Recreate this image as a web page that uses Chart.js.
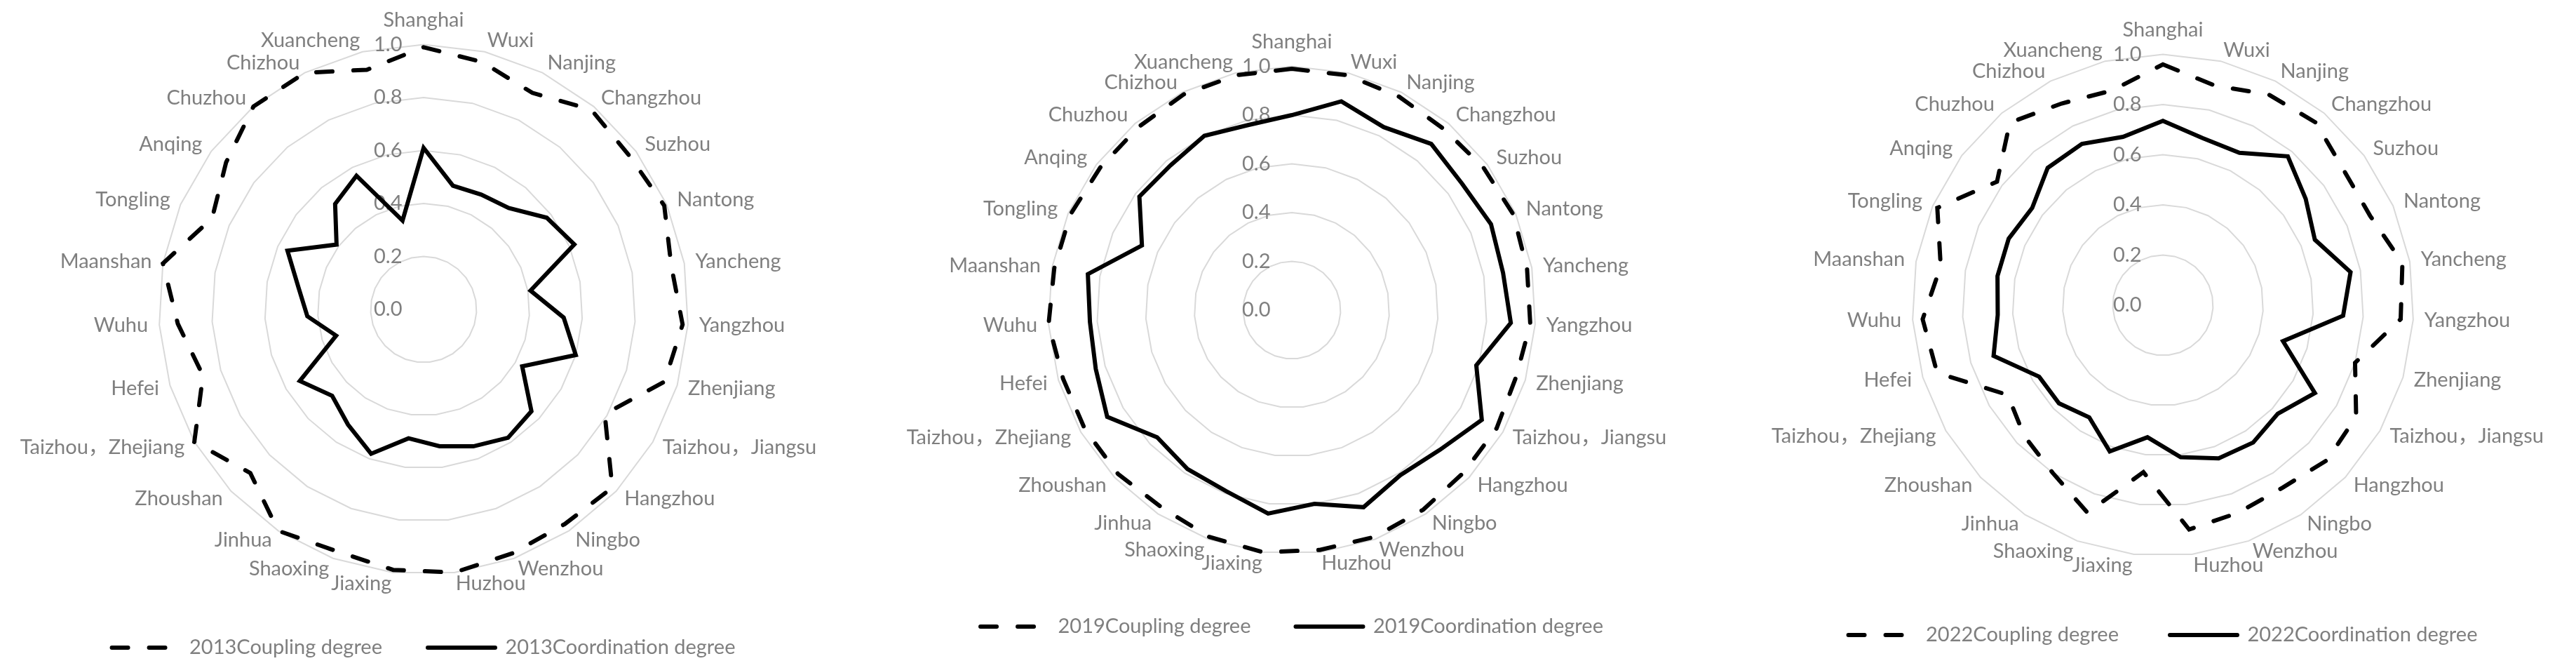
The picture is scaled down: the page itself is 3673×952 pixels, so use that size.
<!DOCTYPE html>
<html>
<head>
<meta charset="utf-8">
<script src="https://cdn.jsdelivr.net/npm/chart.js@4.4.1/dist/chart.umd.min.js"></script>
<style>
  html, body { margin: 0; padding: 0; background: #fff; }
  body { width: 3673px; height: 952px; position: relative; overflow: hidden; }
  canvas { position: absolute; top: 0; }
</style>
</head>
<body>
<canvas id="c2013" width="1280" height="952" style="left:-36px"></canvas>
<canvas id="c2019" width="1280" height="952" style="left:1202px"></canvas>
<canvas id="c2022" width="1280" height="952" style="left:2444px"></canvas>
<script>
// --- data ---
const cities = ["Shanghai", "Wuxi", "Nanjing", "Changzhou", "Suzhou", "Nantong", "Yancheng", "Yangzhou",
    "Zhenjiang", "Taizhou，Jiangsu", "Hangzhou", "Ningbo", "Wenzhou", "Huzhou", "Jiaxing", "Shaoxing",
    "Jinhua", "Zhoushan", "Taizhou，Zhejiang", "Hefei", "Wuhu", "Maanshan", "Tongling", "Anqing",
    "Chuzhou", "Chizhou", "Xuancheng"];

const coupling2013 = [0.99, 0.96, 0.915, 0.985, 0.97, 0.99, 0.95, 0.98, 0.95, 0.79, 0.98, 0.97, 0.98, 1.0,
    0.99, 0.97, 1.0, 0.9, 1.0, 0.87, 0.93, 1.0, 0.87, 0.93, 1.0, 1.0, 0.93];
const coordination2013 = [0.61, 0.48, 0.485, 0.5, 0.58, 0.62, 0.41, 0.53, 0.6, 0.43, 0.56, 0.58, 0.55, 0.52,
    0.49, 0.58, 0.52, 0.475, 0.54, 0.345, 0.44, 0.48, 0.56, 0.41, 0.52, 0.565, 0.345];

const coupling2019 = [0.99, 0.99, 0.98, 0.97, 0.98, 0.99, 0.98, 0.98, 0.96, 0.97, 0.97, 0.98, 0.99, 0.99,
    1.0, 0.99, 0.97, 0.98, 0.98, 0.98, 1.0, 0.99, 0.99, 0.98, 0.98, 0.99, 0.99];
const coordination2019 = [0.8, 0.88, 0.84, 0.89, 0.87, 0.89, 0.88, 0.9, 0.79, 0.9, 0.835, 0.81, 0.86, 0.8,
    0.84, 0.79, 0.78, 0.76, 0.875, 0.84, 0.83, 0.85, 0.67, 0.78, 0.775, 0.8, 0.78];

const coupling2022 = [0.96, 0.9, 0.94, 0.95, 0.9, 0.9, 0.97, 0.95, 0.8, 0.89, 0.9, 0.87, 0.88, 0.9,
    0.67, 0.88, 0.8, 0.76, 0.715, 0.94, 0.96, 0.9, 0.98, 0.825, 0.95, 0.9, 0.88];
const coordination2022 = [0.735, 0.685, 0.68, 0.775, 0.71, 0.66, 0.76, 0.72, 0.5, 0.7, 0.63, 0.655, 0.65, 0.61,
    0.53, 0.62, 0.535, 0.57, 0.57, 0.705, 0.66, 0.67, 0.67, 0.65, 0.715, 0.72, 0.69];

const tickStep = 0.2;

// --- style ---
const grey = "#7f7f7f";
const fontFamily = "Lato, 'Noto Sans CJK SC', sans-serif";
Chart.defaults.font.family = fontFamily;
Chart.defaults.color = grey;

// tick labels sit left of the vertical axis, as in the original
const tickPad = "\u2003\u2003\u2003\u2003\u2002";

// legend items take the line look of their dataset (dash included)
function legendLabels(chart) {
    const items = Chart.defaults.plugins.legend.labels.generateLabels(chart);
    return items.map((item) => {
        const ds = chart.data.datasets[item.datasetIndex];
        item.lineDash = ds.borderDash || [];
        item.lineWidth = ds.borderWidth;
        item.strokeStyle = ds.borderColor;
        item.lineCap = ds.borderCapStyle;
        return item;
    });
}

function makeRadar(id, year, coupling, coordination, pad, legendPad) {
    const ctx = document.getElementById(id).getContext("2d");
    return new Chart(ctx, {
        type: "radar",
        data: {
            labels: cities,
            datasets: [
                {
                    label: year + "Coupling degree",
                    data: coupling,
                    borderColor: "#000",
                    backgroundColor: "transparent",
                    borderWidth: 6,
                    borderDash: [23, 30],
                    borderCapStyle: "round",
                    pointRadius: 0,
                    fill: false,
                },
                {
                    label: year + "Coordination degree",
                    data: coordination,
                    borderColor: "#000",
                    backgroundColor: "transparent",
                    borderWidth: 6,
                    borderCapStyle: "round",
                    pointRadius: 0,
                    fill: false,
                },
            ],
        },
        options: {
            responsive: false,
            animation: false,
            events: [],
            layout: { padding: { top: pad.top, bottom: pad.bottom, left: 0, right: 0 } },
            plugins: {
                tooltip: { enabled: false },
                legend: {
                    position: "bottom",
                    labels: {
                        usePointStyle: true,
                        pointStyle: "line",
                        pointStyleWidth: 96,
                        padding: legendPad,
                        color: grey,
                        font: { size: 29 },
                        generateLabels: legendLabels,
                    },
                },
            },
            scales: {
                r: {
                    min: -1e-9,
                    max: 1,
                    angleLines: { display: false },
                    grid: { color: "#d9d9d9", lineWidth: 2, circular: false },
                    pointLabels: {
                        color: grey,
                        // labels centred on their spoke, the top one lifted clear of the ring
                        font: { family: fontFamily, size: 29, lineHeight: 0.001 },
                        padding: (c) => (c.index === 0 ? 20.5 : 1.5),
                    },
                    ticks: {
                        stepSize: tickStep,
                        color: grey,
                        font: { size: 29 },
                        showLabelBackdrop: false,
                        backdropPadding: 0,
                        callback: (v) => Math.abs(v).toFixed(1) + tickPad,
                    },
                },
            },
        },
    });
}

makeRadar("c2013", "2013", coupling2013, coordination2013, { top: 18.5, bottom: 4.5 }, 65);
makeRadar("c2019", "2019", coupling2019, coordination2019, { top: 49.5, bottom: 34.5 }, 64);
makeRadar("c2022", "2022", coupling2022, coordination2022, { top: 32.5, bottom: 22.5 }, 73);
</script>
</body>
</html>
